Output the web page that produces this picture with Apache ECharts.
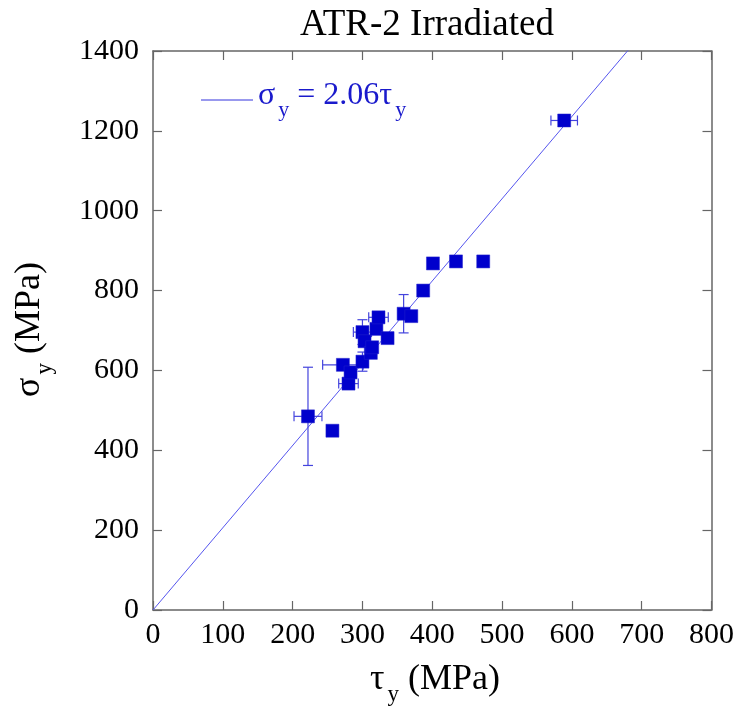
<!DOCTYPE html>
<html>
<head>
<meta charset="utf-8">
<script src="https://cdn.jsdelivr.net/npm/echarts@6/dist/echarts.min.js"></script>
<style>
html,body{margin:0;padding:0;background:#fff;}
#chart{width:737px;height:713px;}
</style>
</head>
<body>
<div id="chart"></div>
<script>
// ---- data ----
var tau      = [222, 257, 272, 280, 283, 300, 300, 303, 312, 314, 320, 323, 336, 359, 370, 387, 401, 434, 473, 589];
var sigma    = [485, 449, 614, 567, 595, 622, 696, 673, 644, 658, 704, 733, 681, 742, 736, 800, 868, 873, 873, 1226];
var tauErr   = [20,  0,   29,  14,  0,   0,   13,  0,   0,   0,   0,   14,  0,   0,   0,   0,   0,   0,   0,   19];
var sigmaErr = [123, 0,   0,   0,   0,   24,  31,  0,   0,   0,   0,   0,   0,   48,  0,   0,   0,   0,   0,   0];
var fitSlope = 2.06;
var fitX = [0, 700];
var xTicks = [0, 100, 200, 300, 400, 500, 600, 700, 800];
var yTicks = [0, 200, 400, 600, 800, 1000, 1200, 1400];

var points = tau.map(function(t, i){ return [t, sigma[i]]; });
var errData = tau.map(function(t, i){ return [t, sigma[i], tauErr[i], sigmaErr[i]]; });
var fitData = fitX.map(function(x){ return [x, fitSlope * x]; });

var FONT = '"Liberation Serif", "Times New Roman", serif';
var axisCol = '#666666';
var blue = '#0000cc';

function axisBase(show, pos, isX){
  return {
    type: 'value',
    position: pos,
    min: isX ? xTicks[0] : yTicks[0],
    max: isX ? xTicks[xTicks.length-1] : yTicks[yTicks.length-1],
    interval: isX ? (xTicks[1]-xTicks[0]) : (yTicks[1]-yTicks[0]),
    splitLine: {show: false},
    axisLine: {show: true, onZero: false, lineStyle: {color: axisCol, width: 1.5}},
    axisTick: {show: true, inside: true, length: 9, lineStyle: {color: axisCol, width: 1.2}},
    axisLabel: {show: show, fontFamily: FONT, fontSize: 30, color: '#000', margin: isX ? 10 : 14,
                formatter: function(v){ return String(v); }}
  };
}

var chart = echarts.init(document.getElementById('chart'), null, {renderer: 'canvas'});
var xa0 = axisBase(true, 'bottom', true);
var xa1 = axisBase(false, 'top', true);
var ya0 = axisBase(true, 'left', false);
var ya1 = axisBase(false, 'right', false);

chart.setOption({
  animation: false,
  backgroundColor: '#fff',
  title: {
    text: 'ATR-2 Irradiated',
    left: 422, top: 2, textAlign: 'center',
    textStyle: {fontFamily: FONT, fontSize: 37, fontWeight: 'normal', color: '#000'}
  },
  grid: {left: 153, right: 24, top: 51, bottom: 103, containLabel: false},
  xAxis: [xa0, xa1],
  yAxis: [ya0, ya1],
  graphic: [
    {
      type: 'text', left: 370, top: 662,
      style: {
        text: '{a|τ}{s|y}{a| (MPa)}',
        rich: {
          a: {fontFamily: FONT, fontSize: 36, fill: '#000'},
          s: {fontFamily: FONT, fontSize: 23, fill: '#000', padding: [30, 0, 0, 3]}
        }
      }
    },
    {
      type: 'text', left: 12, top: 262, rotation: Math.PI/2,
      style: {
        text: '{a|σ}{s|y}{a| (MPa)}',
        rich: {
          a: {fontFamily: FONT, fontSize: 36, fill: '#000'},
          s: {fontFamily: FONT, fontSize: 23, fill: '#000', padding: [30, 0, 0, 3]}
        }
      }
    },
    {
      type: 'line', shape: {x1: 201, y1: 100, x2: 253, y2: 100},
      style: {stroke: '#3333dd', lineWidth: 1}
    },
    {
      type: 'text', left: 258, top: 80,
      style: {
        text: '{a|σ}{s|y}{a| = 2.06τ}{s|y}',
        rich: {
          a: {fontFamily: FONT, fontSize: 32, fill: '#1a1acc'},
          s: {fontFamily: FONT, fontSize: 22, fill: '#1a1acc', padding: [28, 0, 0, 3]}
        }
      }
    }
  ],
  series: [
    {
      type: 'line', data: fitData, symbol: 'none', clip: true,
      lineStyle: {color: '#5555ee', width: 1}, z: 2
    },
    {
      type: 'custom', data: errData, clip: true, z: 3,
      renderItem: function(params, api){
        var x = api.value(0), y = api.value(1), ex = api.value(2), ey = api.value(3);
        var children = [];
        var style = {stroke: '#4444dd', lineWidth: 1.2};
        var cap = 5;
        if (ex > 0) {
          var a = api.coord([x - ex, y]), b = api.coord([x + ex, y]);
          children.push({type:'line', shape:{x1:a[0],y1:a[1],x2:b[0],y2:b[1]}, style: style});
          children.push({type:'line', shape:{x1:a[0],y1:a[1]-cap,x2:a[0],y2:a[1]+cap}, style: style});
          children.push({type:'line', shape:{x1:b[0],y1:b[1]-cap,x2:b[0],y2:b[1]+cap}, style: style});
        }
        if (ey > 0) {
          var c = api.coord([x, y - ey]), d = api.coord([x, y + ey]);
          children.push({type:'line', shape:{x1:c[0],y1:c[1],x2:d[0],y2:d[1]}, style: style});
          children.push({type:'line', shape:{x1:c[0]-cap,y1:c[1],x2:c[0]+cap,y2:c[1]}, style: style});
          children.push({type:'line', shape:{x1:d[0]-cap,y1:d[1],x2:d[0]+cap,y2:d[1]}, style: style});
        }
        return {type:'group', children: children};
      }
    },
    {
      type: 'scatter', data: points, symbol: 'rect', symbolSize: 13, z: 4,
      itemStyle: {color: blue, borderColor: '#2222cc', borderWidth: 0.5, opacity: 1}
    }
  ]
});
</script>
</body>
</html>
